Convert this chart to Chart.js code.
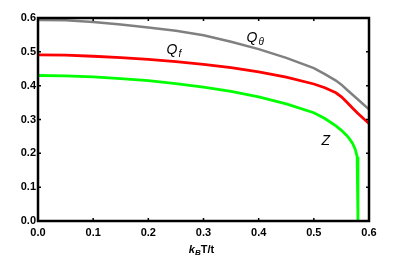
<!DOCTYPE html>
<html>
<head>
<meta charset="utf-8">
<script src="https://cdn.jsdelivr.net/npm/chart.js@4"></script>
<style>
  html, body { margin: 0; padding: 0; background: #fff; }
  #wrap { width: 415px; height: 258px; }
</style>
</head>
<body>
<div id="wrap"><canvas id="chart" width="415" height="258"></canvas></div>
<script>
// values
const xTheta = [0, 0.05, 0.1, 0.15, 0.2, 0.25, 0.3, 0.35, 0.4, 0.45, 0.5, 0.52, 0.54, 0.55, 0.56, 0.58, 0.6];
const qTheta = [0.594, 0.593, 0.588, 0.581, 0.572, 0.562, 0.549, 0.530, 0.508, 0.482, 0.452, 0.434, 0.415, 0.403, 0.388, 0.359, 0.330];

const xF = [0, 0.05, 0.1, 0.15, 0.2, 0.25, 0.3, 0.35, 0.4, 0.45, 0.5, 0.52, 0.54, 0.55, 0.56, 0.57, 0.58, 0.6];
const qF = [0.491, 0.490, 0.487, 0.483, 0.478, 0.471, 0.463, 0.453, 0.441, 0.425, 0.405, 0.394, 0.379, 0.367, 0.351, 0.334, 0.318, 0.288];

const xZ = [0, 0.05, 0.1, 0.15, 0.2, 0.25, 0.3, 0.35, 0.4, 0.45, 0.5, 0.52, 0.54, 0.55, 0.56, 0.565, 0.57, 0.575, 0.5785, 0.58];
const zVals = [0.430, 0.429, 0.426, 0.421, 0.415, 0.406, 0.396, 0.383, 0.367, 0.346, 0.320, 0.303, 0.281, 0.268, 0.252, 0.242, 0.230, 0.212, 0.190, 0.0];

const tickValues = [0, 0.1, 0.2, 0.3, 0.4, 0.5, 0.6];

// curve labels: [main, subscript, x, y]
const curveLabels = [
    ['Q', 'θ', 0.378, 0.541],
    ['Q', 'f', 0.233, 0.505],
    ['Z', '', 0.514, 0.236]
];

function pts(xs, ys) {
    return xs.map((x, i) => ({ x: x, y: ys[i] }));
}

const fontName = '"Liberation Sans", Arial, sans-serif';

const framePlugin = {
    id: 'frame',
    afterDatasetsDraw(chart) {
        const { ctx, chartArea: a, scales } = chart;
        ctx.save();
        ctx.strokeStyle = '#000';
        ctx.lineWidth = 2.5;
        ctx.strokeRect(a.left, a.top, a.right - a.left, a.bottom - a.top);
        ctx.lineWidth = 1.5;
        ctx.beginPath();
        tickValues.forEach(v => {
            const px = scales.x.getPixelForValue(v);
            ctx.moveTo(px, a.bottom); ctx.lineTo(px, a.bottom - 3);
            ctx.moveTo(px, a.top); ctx.lineTo(px, a.top + 3);
            const py = scales.y.getPixelForValue(v);
            ctx.moveTo(a.left, py); ctx.lineTo(a.left + 3, py);
            ctx.moveTo(a.right, py); ctx.lineTo(a.right - 3, py);
        });
        ctx.stroke();

        // curve labels
        ctx.fillStyle = '#000';
        ctx.textBaseline = 'middle';
        curveLabels.forEach(([main, sub, x, y]) => {
            const px = scales.x.getPixelForValue(x);
            const py = scales.y.getPixelForValue(y);
            ctx.font = 'italic 14px ' + fontName;
            ctx.fillText(main, px, py);
            const w = ctx.measureText(main).width;
            if (sub) {
                ctx.font = 'italic 10px ' + fontName;
                ctx.fillText(sub, px + w + 1, py + 4);
            }
        });

        // axis title k_B T/t
        const cx = (a.left + a.right) / 2 - 2;
        const base = 253;
        ctx.textBaseline = 'alphabetic';
        ctx.font = 'italic bold 11px ' + fontName;
        const wk = ctx.measureText('k').width;
        ctx.font = 'italic bold 8px ' + fontName;
        const wb = ctx.measureText('B').width;
        ctx.font = 'bold 11px ' + fontName;
        const wt = ctx.measureText('T/t').width;
        let sx = cx - (wk + wb + wt) / 2;
        ctx.font = 'italic bold 11px ' + fontName;
        ctx.fillText('k', sx, base);
        sx += wk;
        ctx.font = 'italic bold 8px ' + fontName;
        ctx.fillText('B', sx, base + 2);
        sx += wb;
        ctx.font = 'bold 11px ' + fontName;
        ctx.fillText('T/t', sx, base);
        ctx.restore();
    }
};

new Chart(document.getElementById('chart'), {
    type: 'scatter',
    data: {
        datasets: [
            { label: 'Qθ', data: pts(xTheta, qTheta), borderColor: '#808080', borderWidth: 2.5 },
            { label: 'Qf', data: pts(xF, qF), borderColor: '#ff0000', borderWidth: 2.8 },
            { label: 'Z', data: pts(xZ, zVals), borderColor: '#00ff00', borderWidth: 2.8 }
        ]
    },
    options: {
        responsive: false,
        animation: false,
        showLine: true,
        elements: {
            point: { radius: 0, hoverRadius: 0 },
            line: { tension: 0, fill: false }
        },
        layout: { padding: { left: 0, top: 18, right: 46, bottom: 0 } },
        plugins: {
            legend: { display: false },
            tooltip: { enabled: false }
        },
        scales: {
            x: {
                type: 'linear',
                min: 0, max: 0.6,
                afterFit: s => { s.height = 37; },
                afterBuildTicks: s => { s.ticks = tickValues.map(v => ({ value: v })); },
                grid: { display: false, drawTicks: false },
                border: { display: false },
                ticks: {
                    color: '#000',
                    padding: 5,
                    maxRotation: 0,
                    font: { family: fontName, size: 11, weight: 'bold' },
                    callback: v => v.toFixed(1)
                }
            },
            y: {
                min: 0, max: 0.6,
                afterFit: s => { s.width = 38; },
                afterBuildTicks: s => { s.ticks = tickValues.map(v => ({ value: v })); },
                grid: { display: false, drawTicks: false },
                border: { display: false },
                ticks: {
                    color: '#000',
                    padding: 2,
                    font: { family: fontName, size: 11, weight: 'bold' },
                    callback: v => v.toFixed(1)
                }
            }
        }
    },
    plugins: [framePlugin]
});
</script>
</body>
</html>
